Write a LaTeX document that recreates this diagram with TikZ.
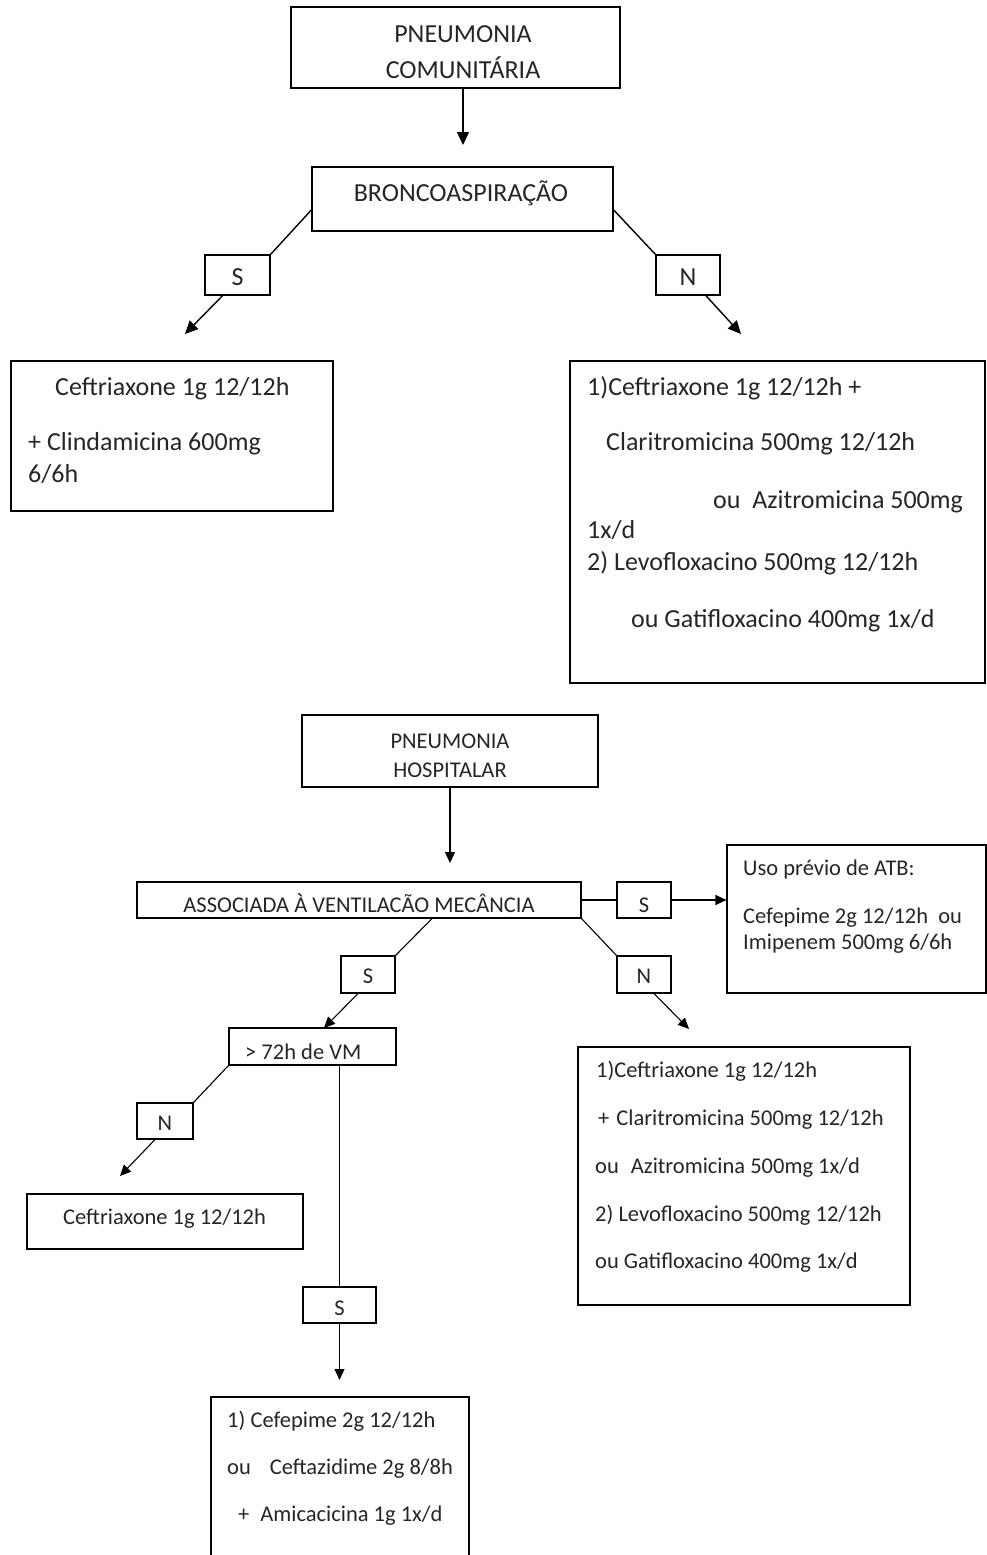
\documentclass[tikz,border=0pt]{standalone}
\usepackage{fontspec}
\setmainfont{Carlito}
\usetikzlibrary{arrows.meta}
\begin{document}
\begin{tikzpicture}[x=1pt,y=-1pt,
  boxA/.style={draw=black, line width=1.4pt, inner sep=0pt, rectangle},
  boxB/.style={draw=black, line width=1.1pt, inner sep=0pt, rectangle},
  lnA/.style={draw=black, line width=1.4pt},
  lnB/.style={draw=black, line width=1.1pt},
  arrA/.style={lnA, -{Triangle[length=13pt,width=12pt]}},
  arrB/.style={lnB, -{Triangle[length=11pt,width=10pt]}},
  txA/.style={inner sep=0pt, text=black!85, font=\fontsize{26}{30}\selectfont},
  txB/.style={inner sep=0pt, text=black!85, font=\fontsize{22.5}{26}\selectfont}]
\useasboundingbox (0,0) rectangle (987,1555);
\fill[white] (0,0) rectangle (987,1555);

% ---------- upper flowchart ----------
\node[boxA, minimum width=329, minimum height=81] (pc) at (455.5,47.5) {};
\node[txA, anchor=base] (pc1) at (463,43) {PNEUMONIA};
\node[txA, anchor=base] (pc2) at (463,78) {COMUNITÁRIA};

\node[boxA, minimum width=301, minimum height=64] (bronco) at (462.5,199) {};
\node[txA, anchor=base] (broncot) at (461,201) {BRONCOASPIRAÇÃO};

\node[boxA, minimum width=65, minimum height=40] (sA) at (237.5,275) {};
\node[txA, anchor=base] (sAt) at (237.5,285) {S};
\node[boxA, minimum width=64, minimum height=40] (nA) at (688,275) {};
\node[txA, anchor=base] (nAt) at (688,285) {N};

\node[boxA, minimum width=322, minimum height=150] (leftbox) at (172,436) {};
\node[txA, anchor=base west] (l1) at (55,395) {Ceftriaxone 1g 12/12h};
\node[txA, anchor=base west] (l2) at (28,450) {+ Clindamicina 600mg};
\node[txA, anchor=base west] (l3) at (28,482) {6/6h};

\node[boxA, minimum width=415, minimum height=322] (rightbox) at (777.5,522) {};
\node[txA, anchor=base west] (r1) at (587,395) {1)Ceftriaxone 1g 12/12h +};
\node[txA, anchor=base west] (r2) at (606,450) {Claritromicina 500mg 12/12h};
\node[txA, anchor=base west] (r3) at (713,508) {ou\ \ Azitromicina 500mg};
\node[txA, anchor=base west] (r4) at (587,538) {1x/d};
\node[txA, anchor=base west] (r5) at (587,570) {2) Levofloxacino 500mg 12/12h};
\node[txA, anchor=base west] (r6) at (631,627) {ou Gatifloxacino 400mg 1x/d};

\coordinate (tipA) at (463,145);
\draw[arrA] (pc.south -| tipA) -- (tipA);
\draw[lnA] ([yshift=-11pt]bronco.west) -- (sA.north east);
\draw[lnA] ([yshift=-11pt]bronco.east) -- (nA.north west);
\coordinate (tipS) at (185,334);
\coordinate (tipN) at (741,334);
\draw[arrA] ([xshift=-15pt]sA.south) -- (tipS);
\draw[arrA] ([xshift=18pt]nA.south) -- (tipN);

% ---------- lower flowchart ----------
\node[boxB, minimum width=296, minimum height=72] (ph) at (450,751) {};
\node[txB, anchor=base] (ph1) at (450,748) {PNEUMONIA};
\node[txB, anchor=base] (ph2) at (450,777) {HOSPITALAR};

\node[boxB, minimum width=444, minimum height=36] (assoc) at (359,900) {};
\node[txB, anchor=base] (assoct) at (359,912) {ASSOCIADA À VENTILACÃO MECÂNCIA};

\node[boxB, minimum width=54, minimum height=36] (s2) at (644,900) {};
\node[txB, anchor=base] (s2t) at (644,912) {S};

\node[boxB, minimum width=259, minimum height=148] (uso) at (856.5,919) {};
\node[txB, anchor=base west] (u1) at (743,875) {Uso prévio de ATB:};
\node[txB, anchor=base west] (u2) at (743,923) {Cefepime 2g 12/12h\ \ ou};
\node[txB, anchor=base west] (u3) at (743,949) {Imipenem 500mg 6/6h};

\node[boxB, minimum width=54, minimum height=37] (s3) at (368,974.5) {};
\node[txB, anchor=base] (s3t) at (368,983) {S};
\node[boxB, minimum width=54, minimum height=37] (n3) at (644,974.5) {};
\node[txB, anchor=base] (n3t) at (644,983) {N};

\node[boxB, minimum width=167, minimum height=37] (vm) at (312.5,1046.5) {};
\node[txB, anchor=base west] (vmt) at (245,1059) {> 72h de VM};

\node[boxB, minimum width=56, minimum height=36] (n4) at (165,1121) {};
\node[txB, anchor=base] (n4t) at (165,1130) {N};

\node[boxB, minimum width=276, minimum height=55] (cef) at (165,1221.5) {};
\node[txB, anchor=base west] (ceft) at (63,1224) {Ceftriaxone 1g 12/12h};

\node[boxB, minimum width=73, minimum height=36] (s5) at (339.5,1305) {};
\node[txB, anchor=base] (s5t) at (339.5,1315) {S};

\node[boxB, minimum width=258, minimum height=210] (bot) at (340,1502) {};
\node[txB, anchor=base west] (b1) at (227,1427) {1) Cefepime 2g 12/12h};
\node[txB, anchor=base west] (b2) at (227,1474) {ou\hspace{19pt}Ceftazidime 2g 8/8h};
\node[txB, anchor=base west] (b3) at (238,1521) {+\hspace{11pt}Amicacicina 1g 1x/d};

\node[boxB, minimum width=332, minimum height=258] (rb) at (744,1176) {};
\node[txB, anchor=base west] (rb1) at (596,1077) {1)Ceftriaxone 1g 12/12h};
\node[txB, anchor=base west] (rb2) at (598,1125) {+\hspace{7pt}Claritromicina 500mg 12/12h};
\node[txB, anchor=base west] (rb3) at (595,1173) {ou\hspace{12pt}Azitromicina 500mg 1x/d};
\node[txB, anchor=base west] (rb4) at (595,1221) {2) Levofloxacino 500mg 12/12h};
\node[txB, anchor=base west] (rb5) at (595,1268) {ou Gatifloxacino 400mg 1x/d};

% connectors
\coordinate (tipPH) at (450,863);
\draw[arrB] (ph.south -| tipPH) -- (tipPH);
\draw[lnB] (assoc.east) -- (s2.west);
\draw[arrB] (s2.east) -- (s2.east -| uso.west);
\draw[lnB] ([xshift=73pt]assoc.south) -- (s3.north east);
\draw[lnB] (assoc.south east) -- (n3.north west);
\coordinate (tipS3) at (324,1028);
\draw[arrB] ([xshift=-10pt]s3.south) -- (tipS3);
\coordinate (tipN3) at (689,1029);
\draw[arrB] ([xshift=10pt]n3.south) -- (tipN3);
\draw[lnB] (vm.south west) -- (n4.north east);
\coordinate (tipN4) at (120,1176);
\draw[arrB] ([xshift=-10pt]n4.south) -- (tipN4);
\draw[lnB] (s5.north |- vm.south) -- (s5.north);
\coordinate (tipS5) at (339.5,1380);
\draw[arrB] (s5.south) -- (tipS5);
\end{tikzpicture}
\end{document}
